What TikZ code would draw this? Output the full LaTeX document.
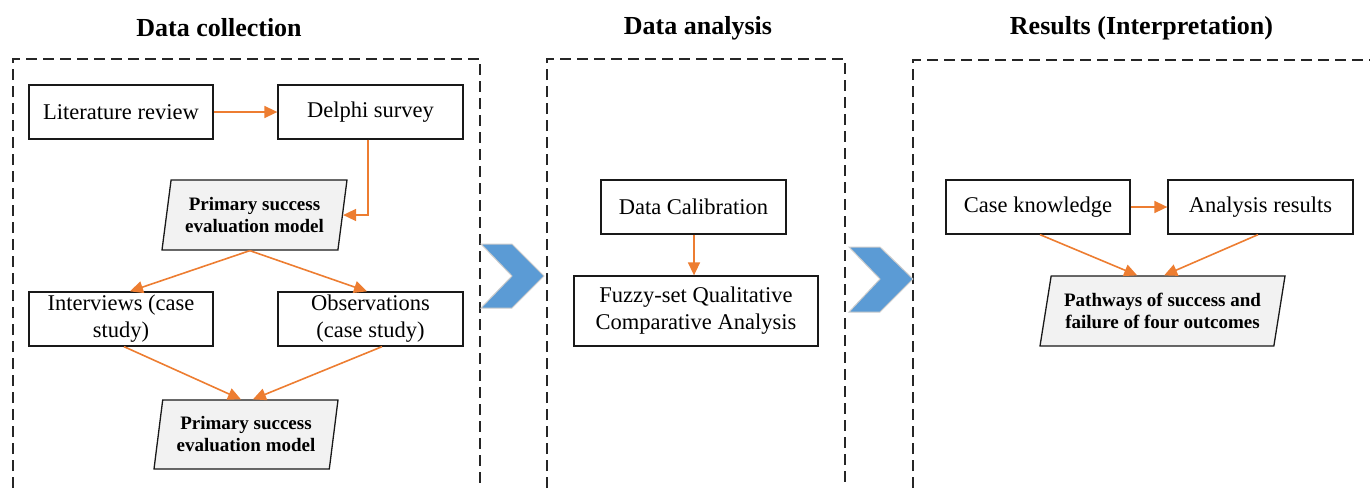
\documentclass[tikz,border=0pt]{standalone}
\usepackage{fontspec}
\setmainfont{Liberation Serif}
\usetikzlibrary{arrows.meta,shapes.geometric,calc}
\definecolor{arrorange}{HTML}{ED7D31}
\definecolor{parfill}{HTML}{F2F2F2}
\definecolor{chevblue}{HTML}{5B9BD5}
\tikzset{
  box/.style={draw=black!90, line width=1.3pt, fill=white, inner sep=0pt, align=center,
     font=\fontsize{22.5}{27}\selectfont},
  para/.style={trapezium, trapezium stretches body, draw=black!90, line width=1.3pt, fill=parfill,
     inner sep=0pt, align=center, font=\fontsize{19}{22}\selectfont\bfseries},
  flow/.style={draw=arrorange, line width=1.6pt, -{Triangle[length=13pt,width=12pt]}},
  frame/.style={draw=black!85, line width=1.2pt, dash pattern=on 11pt off 6pt},
  title/.style={anchor=base, font=\fontsize{26}{30}\selectfont\bfseries},
  chev/.style={fill=chevblue, draw=black!20, line width=1pt, line join=miter}
}
\begin{document}
\begin{tikzpicture}[x=1pt,y=-1pt]
\useasboundingbox (0,0) rectangle (1370,488);
% frames
\draw[frame] (13,488) -- (13,59) -- (480,59) -- (480,488);
\draw[frame] (547,488) -- (547,59) -- (845,59) -- (845,488);
\draw[frame] (913,488) -- (913,60) -- (1370,60);
% titles
\node[title] (t1) at (219,36) {Data collection};
\node[title] (t2) at (698,34) {Data analysis};
\node[title] (t3) at (1141.5,34) {Results (Interpretation)};
% chevrons
\draw[chev] (481,244) -- (512,244) -- (544,276) -- (512,308) -- (481,308) -- (512,276) -- cycle;
\draw[chev] (849,247) -- (880,247) -- (913,279) -- (880,312) -- (849,312) -- (880,279) -- cycle;
% data collection
\node[box, minimum width=184pt, minimum height=54pt] (lit) at (121,112) {Literature review};
\node[box, minimum width=185pt, minimum height=54pt] (del) at (370.5,112) {Delphi survey};
\node[para, trapezium left angle=75.6, trapezium right angle=104.4, minimum width=185pt, minimum height=70pt] (p1) at (254.5,215) {Primary success\\evaluation model};
\node[box, minimum width=184pt, minimum height=54pt] (int) at (121,319) {Interviews (case\\study)};
\node[box, minimum width=185pt, minimum height=54pt] (obs) at (370.5,319) {Observations\\(case study)};
\node[para, trapezium left angle=76.2, trapezium right angle=103.8, minimum width=184pt, minimum height=69pt] (p2) at (246,434.5) {Primary success\\evaluation model};
\draw[flow] (lit.east) -- (del.west);
\draw[flow] ([xshift=-2.5pt]del.south) |- (p1.right side);
\draw[flow] (p1.bottom side) -- ([xshift=9pt]int.north);
\draw[flow] (p1.bottom side) -- ([xshift=-3.5pt]obs.north);
\draw[flow] ([xshift=3pt]int.south) -- ([xshift=-9.5pt]p2.top side);
\draw[flow] ([xshift=11.5pt]obs.south) -- ([xshift=2.5pt]p2.top side);
% data analysis
\node[box, minimum width=185pt, minimum height=54pt] (cal) at (693.5,207) {Data Calibration};
\node[box, minimum width=244pt, minimum height=70pt] (fuz) at (696,311) {Fuzzy-set Qualitative\\Comparative Analysis};
\draw[flow] ([xshift=0.5pt]cal.south) -- ([xshift=0.5pt]cal.south |- fuz.north);
% results
\node[box, minimum width=184pt, minimum height=54pt] (ck) at (1038,207) {Case knowledge};
\node[box, minimum width=185pt, minimum height=54pt] (ar) at (1260.5,207) {Analysis results};
\node[para, trapezium left angle=72.6, trapezium right angle=107.4, minimum width=245pt, minimum height=70pt] (p3) at (1162.5,311) {Pathways of success and\\failure of four outcomes};
\draw[flow] (ck.east) -- (ar.west);
\draw[flow] ([xshift=2pt]ck.south) -- ([xshift=-31pt]p3.top side);
\draw[flow] ([xshift=-2.5pt]ar.south) -- ([xshift=-4pt]p3.top side);
\end{tikzpicture}
\end{document}
